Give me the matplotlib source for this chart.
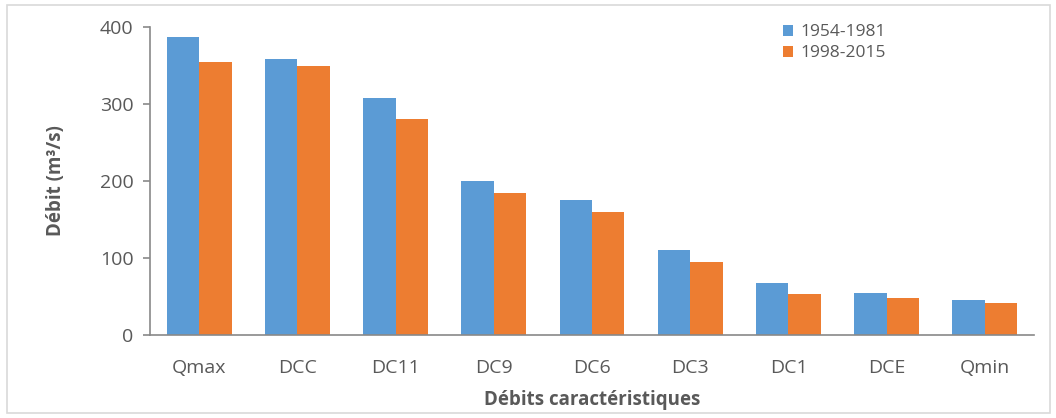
import matplotlib.pyplot as plt
import numpy as np
from matplotlib.patches import Rectangle

# Données
categories = ["Qmax", "DCC", "DC11", "DC9", "DC6", "DC3", "DC1", "DCE", "Qmin"]
p1954_1981 = [387, 359, 308, 200, 175, 110, 68, 55, 45]
p1998_2015 = [355, 350, 280, 185, 160, 95, 53, 48, 42]
yticks = [0, 100, 200, 300, 400]

plt.rcParams['font.family'] = ['Open Sans', 'DejaVu Sans']

fig = plt.figure(figsize=(10.56, 4.18), dpi=100)
ax = fig.add_axes([150 / 1056, 1 - 335 / 418, 884 / 1056, 308 / 418])

x = np.arange(len(categories))
w = 0.33
ax.bar(x - w / 2, p1954_1981, w, color="#5b9bd5", label="1954-1981")
ax.bar(x + w / 2, p1998_2015, w, color="#ed7d31", label="1998-2015")

ax.set_xlim(-0.5, len(categories) - 0.5)
ax.set_ylim(0, 400)
ax.set_yticks(yticks)
ax.set_xticks(x)
ax.set_xticklabels(categories)

gray = "#595959"
ax.tick_params(axis="y", colors="#898989", labelcolor=gray, labelsize=14, length=5, width=1.2, pad=7)
ax.tick_params(axis="x", length=0, labelcolor=gray, labelsize=14, pad=17)
for s in ["top", "right"]:
    ax.spines[s].set_visible(False)
for s in ["left", "bottom"]:
    ax.spines[s].set_color("#898989")
    ax.spines[s].set_linewidth(1.2)

ax.set_ylabel("Débit (m³/s)", fontsize=13.5, fontweight="bold", color=gray, labelpad=24)
ax.set_xlabel("Débits caractéristiques", fontsize=13.5, fontweight="bold", color=gray, labelpad=10)

ax.legend(loc="upper left", bbox_to_anchor=(0.698, 1.06), frameon=False, fontsize=12.5,
          handlelength=0.6, handleheight=0.6, handletextpad=0.4, labelspacing=0.3,
          labelcolor=gray)

fig.patches.append(Rectangle((7 / 1056, 5 / 418), 1043 / 1056, 408 / 418,
                             transform=fig.transFigure, fill=False,
                             edgecolor="#d9d9d9", linewidth=1.2))

fig.savefig("out.png", dpi=100)
